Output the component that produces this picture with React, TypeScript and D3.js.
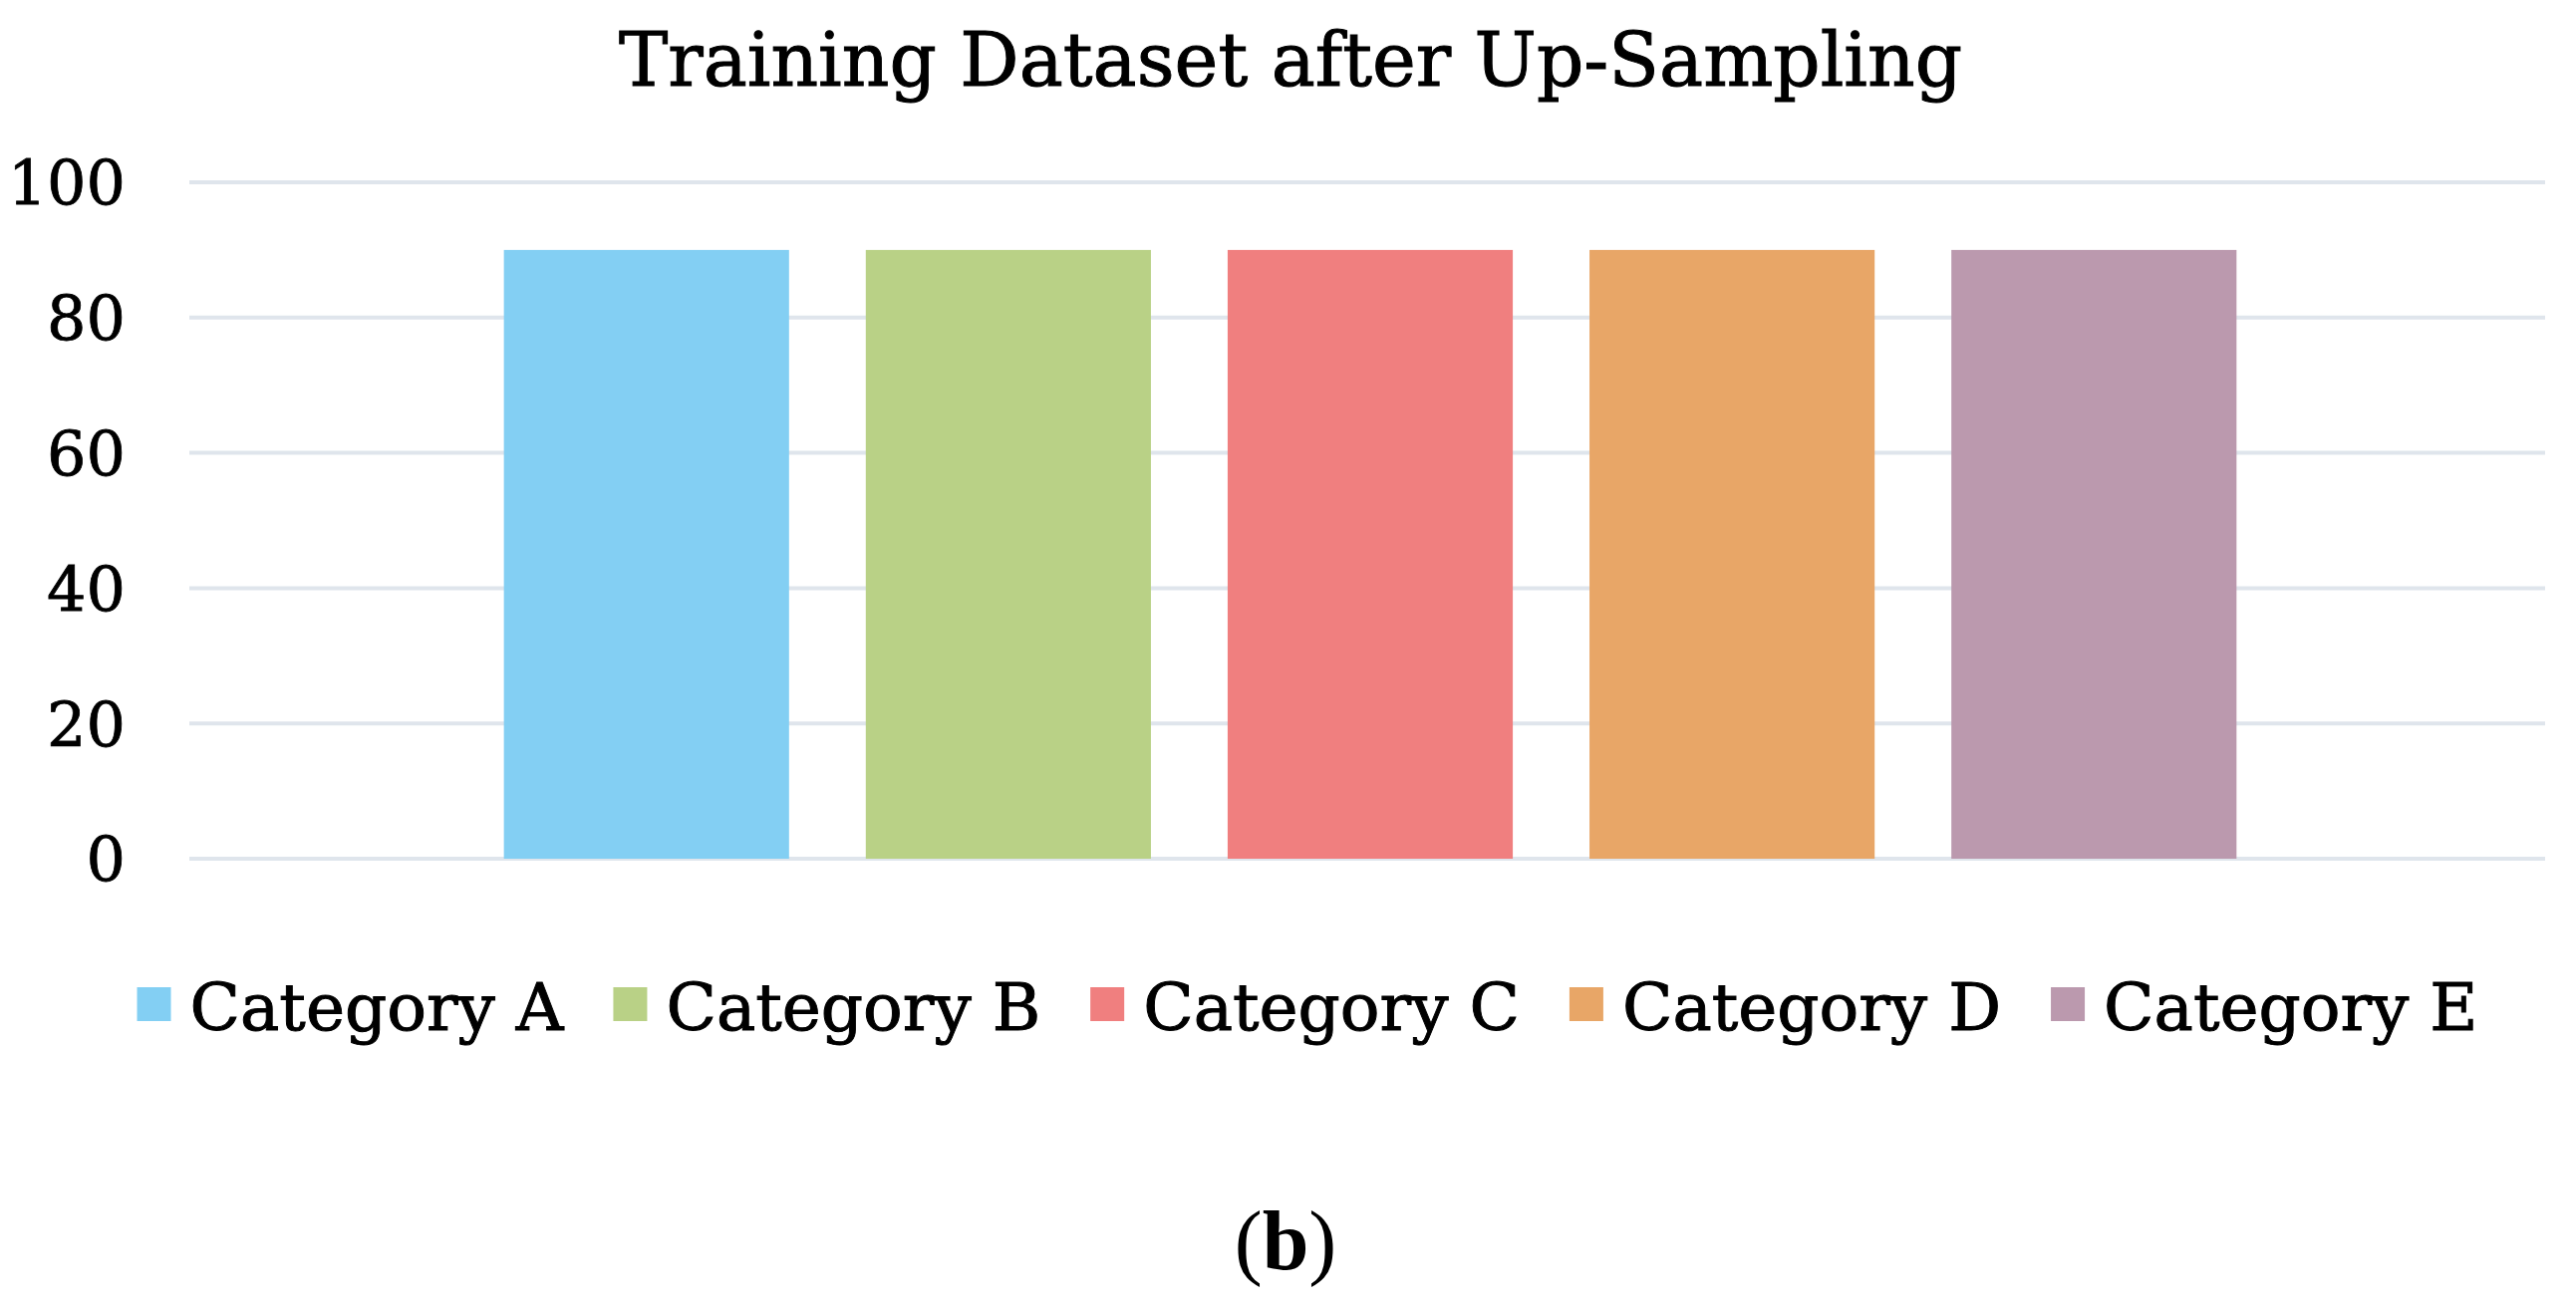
import React, { useEffect, useRef } from 'react';
import * as d3 from 'd3';

const categories = ['Category A', 'Category B', 'Category C', 'Category D', 'Category E'];
const values = [90, 90, 90, 90, 90];
const colors = ['#83cff3', '#b9d186', '#f07f7f', '#e8a667', '#bb99ae'];
const yTicks = [0, 20, 40, 60, 80, 100];
const title = 'Training Dataset after Up-Sampling';

const WIDTH = 2585;
const HEIGHT = 1312;
const FONT = '"DejaVu Serif", serif';

const App = () => {
  const svgRef = useRef<SVGSVGElement | null>(null);

  useEffect(() => {
    document.body.style.margin = '0';
    const svg = d3.select(svgRef.current);
    svg.selectAll('*').remove();

    const plotLeft = 190;
    const plotRight = 2554;
    const plotTop = 183;
    const plotBottom = 862;

    // single cluster, bars sit a touch right of the plot centre
    const x = d3.scaleBand<string>()
      .domain(categories)
      .range([plotLeft + 3, plotRight + 3])
      .paddingInner(0.212)
      .paddingOuter(0.861);
    const y = d3.scaleLinear().domain([0, 100]).range([plotBottom, plotTop]);

    svg.append('rect').attr('width', WIDTH).attr('height', HEIGHT).attr('fill', '#fff');

    // title
    svg.append('text')
      .attr('x', 1295)
      .attr('y', 86)
      .attr('text-anchor', 'middle')
      .style('font-family', FONT)
      .style('font-size', '74px')
      .style('fill', '#000')
      .style('stroke', '#000')
      .style('stroke-width', 1)
      .text(title);

    // gridlines
    svg.append('g').selectAll('line').data(yTicks).join('line')
      .attr('x1', plotLeft)
      .attr('x2', plotRight)
      .attr('y1', (d) => y(d))
      .attr('y2', (d) => y(d))
      .attr('stroke', '#dfe5ec')
      .attr('stroke-width', 4);

    // y tick labels
    svg.append('g').selectAll('text').data(yTicks).join('text')
      .attr('x', 126)
      .attr('y', (d) => y(d))
      .attr('dy', '0.36em')
      .attr('text-anchor', 'end')
      .style('font-family', FONT)
      .style('font-size', '62px')
      .style('fill', '#000')
      .style('stroke', '#000')
      .style('stroke-width', 0.8)
      .text((d) => d);

    // bars
    svg.append('g').selectAll('rect').data(categories).join('rect')
      .attr('x', (d) => x(d)!)
      .attr('y', (_, i) => y(values[i]))
      .attr('width', x.bandwidth())
      .attr('height', (_, i) => y(0) - y(values[i]))
      .attr('fill', (_, i) => colors[i]);

    // legend, centred, widths measured from the text
    const legend = svg.append('g');
    const items = legend.selectAll('g').data(categories).join('g');
    items.append('rect')
      .attr('width', 34)
      .attr('height', 34)
      .attr('y', 991)
      .attr('fill', (_, i) => colors[i]);
    const labels = items.append('text')
      .attr('x', 53)
      .attr('y', 1034)
      .style('font-family', FONT)
      .style('font-size', '66px')
      .style('fill', '#000')
      .style('stroke', '#000')
      .style('stroke-width', 1)
      .text((d) => d);
    const widths = labels.nodes().map((n) => (n as SVGTextElement).getComputedTextLength());
    const gap = 50;
    const total = d3.sum(widths.map((w) => 53 + w)) + gap * (categories.length - 1);
    let cx = 1312 - total / 2;
    items.attr('transform', (_, i) => {
      const t = `translate(${cx},0)`;
      cx += 53 + widths[i] + gap;
      return t;
    });

    // panel label
    const cap = svg.append('text')
      .attr('x', 1290)
      .attr('y', 1274)
      .attr('text-anchor', 'middle')
      .style('font-family', '"Liberation Serif", serif')
      .style('font-size', '84px')
      .style('fill', '#000');
    cap.append('tspan').text('(');
    cap.append('tspan').style('font-weight', 'bold').text('b');
    cap.append('tspan').text(')');
  }, []);

  return <svg ref={svgRef} width={WIDTH} height={HEIGHT} style={{ display: 'block' }} />;
};

export default App;
